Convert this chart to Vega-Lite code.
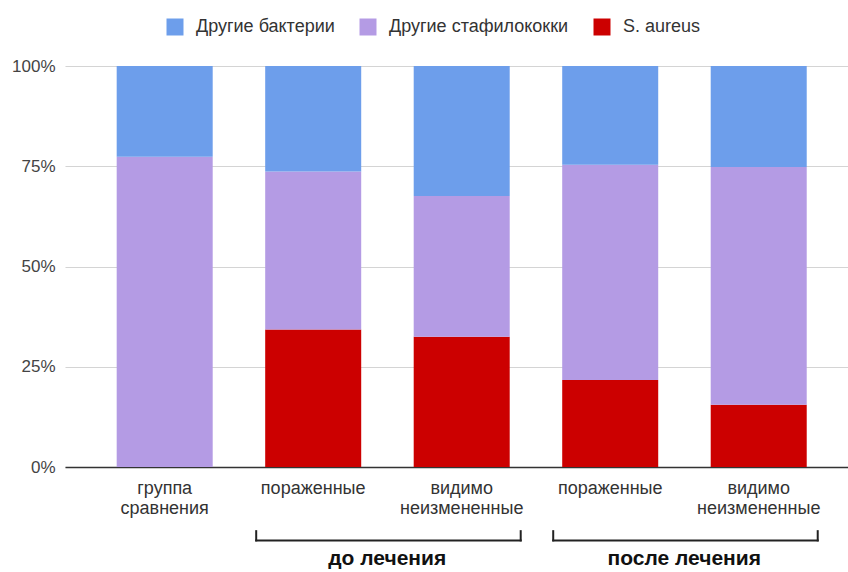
{
  "$schema": "https://vega.github.io/schema/vega-lite/v6.json",
  "width": 783,
  "height": 401,
  "autosize": {"type": "none"},
  "padding": {"left": 65, "top": 66, "right": 0, "bottom": 105},
  "background": "white",
  "config": {"view": {"stroke": null}, "font": "Liberation Sans"},
  "datasets": {
    "bars": [
      {"cat": "g", "series": "S. aureus", "ord": 1, "value": 0},
      {"cat": "g", "series": "Другие стафилококки", "ord": 2, "value": 77.4},
      {"cat": "g", "series": "Другие бактерии", "ord": 3, "value": 22.6},
      {"cat": "d1", "series": "S. aureus", "ord": 1, "value": 34.3},
      {"cat": "d1", "series": "Другие стафилококки", "ord": 2, "value": 39.4},
      {"cat": "d1", "series": "Другие бактерии", "ord": 3, "value": 26.3},
      {"cat": "d2", "series": "S. aureus", "ord": 1, "value": 32.5},
      {"cat": "d2", "series": "Другие стафилококки", "ord": 2, "value": 35.1},
      {"cat": "d2", "series": "Другие бактерии", "ord": 3, "value": 32.4},
      {"cat": "p1", "series": "S. aureus", "ord": 1, "value": 21.7},
      {"cat": "p1", "series": "Другие стафилококки", "ord": 2, "value": 53.7},
      {"cat": "p1", "series": "Другие бактерии", "ord": 3, "value": 24.6},
      {"cat": "p2", "series": "S. aureus", "ord": 1, "value": 15.5},
      {"cat": "p2", "series": "Другие стафилококки", "ord": 2, "value": 59.3},
      {"cat": "p2", "series": "Другие бактерии", "ord": 3, "value": 25.2}
    ],
    "br": [
      {"label": "до лечения", "left": "d1", "right": "d2", "ytop": -16, "ybot": -18.3, "ytext": -23},
      {"label": "после лечения", "left": "p1", "right": "p2", "ytop": -16, "ybot": -18.3, "ytext": -23}
    ]
  },
  "layer": [
    {
      "data": {"name": "bars"},
      "mark": {"type": "bar"},
      "encoding": {
        "x": {
          "field": "cat", "type": "nominal", "title": null,
          "scale": {"domain": ["g", "d1", "d2", "p1", "p2"], "paddingInner": 0.3535, "paddingOuter": 0.313, "align": 0.556},
          "axis": {
            "labelExpr": "datum.value == 'g' ? ['группа','сравнения'] : (datum.value == 'd1' || datum.value == 'p1') ? 'пораженные' : ['видимо','неизмененные']",
            "labelAngle": 0, "labelFontSize": 18, "labelColor": "#333", "labelPadding": 12,
            "labelLineHeight": 20, "ticks": false, "domainColor": "#333", "domainWidth": 1.5,
            "labelFont": "Liberation Sans", "labelBaseline": "top", "grid": false
          }
        },
        "y": {
          "field": "value", "type": "quantitative", "stack": "zero", "title": null,
          "scale": {"domain": [0, 100], "nice": false},
          "axis": {
            "values": [0, 25, 50, 75, 100], "labelExpr": "datum.value + '%'", "domain": false,
            "ticks": false, "labelPadding": 10, "labelFontSize": 17, "labelColor": "#444",
            "labelFont": "Liberation Sans", "gridColor": "#d4d4d4", "gridWidth": 1.2
          }
        },
        "color": {
          "field": "series", "type": "nominal",
          "scale": {"domain": ["Другие бактерии", "Другие стафилококки", "S. aureus"], "range": ["#6d9eeb", "#b49be4", "#cc0000"]},
          "legend": {
            "orient": "none", "legendX": 101, "legendY": -48, "direction": "horizontal", "title": null,
            "symbolType": "square", "symbolSize": 289, "symbolStrokeWidth": 0, "symbolOpacity": 1,
            "labelFontSize": 18, "labelFont": "Liberation Sans", "labelColor": "#333", "columnPadding": 24,
            "labelOffset": 12, "padding": 0, "labelLimit": 300
          }
        },
        "order": {"field": "ord", "type": "quantitative"}
      }
    },
    {
      "data": {"name": "br"},
      "mark": {"type": "rule", "xOffset": -57, "x2Offset": 59, "strokeWidth": 2, "color": "#222", "strokeCap": "square"},
      "encoding": {
        "x": {"field": "left", "type": "nominal", "title": null},
        "x2": {"field": "right"},
        "y": {"field": "ybot", "type": "quantitative", "title": null}
      }
    },
    {
      "data": {"name": "br"},
      "mark": {"type": "rule", "xOffset": -57, "strokeWidth": 2, "color": "#222", "strokeCap": "square"},
      "encoding": {
        "x": {"field": "left", "type": "nominal", "title": null},
        "y": {"field": "ytop", "type": "quantitative", "title": null},
        "y2": {"field": "ybot"}
      }
    },
    {
      "data": {"name": "br"},
      "mark": {"type": "rule", "xOffset": 59, "strokeWidth": 2, "color": "#222", "strokeCap": "square"},
      "encoding": {
        "x": {"field": "right", "type": "nominal", "title": null},
        "y": {"field": "ytop", "type": "quantitative", "title": null},
        "y2": {"field": "ybot"}
      }
    },
    {
      "data": {"name": "br"},
      "mark": {"type": "text", "xOffset": 74, "fontSize": 21, "fontWeight": "bold", "font": "Liberation Sans", "color": "#111", "baseline": "middle", "align": "center"},
      "encoding": {
        "x": {"field": "left", "type": "nominal", "title": null},
        "y": {"field": "ytext", "type": "quantitative", "title": null},
        "text": {"field": "label"}
      }
    }
  ]
}
